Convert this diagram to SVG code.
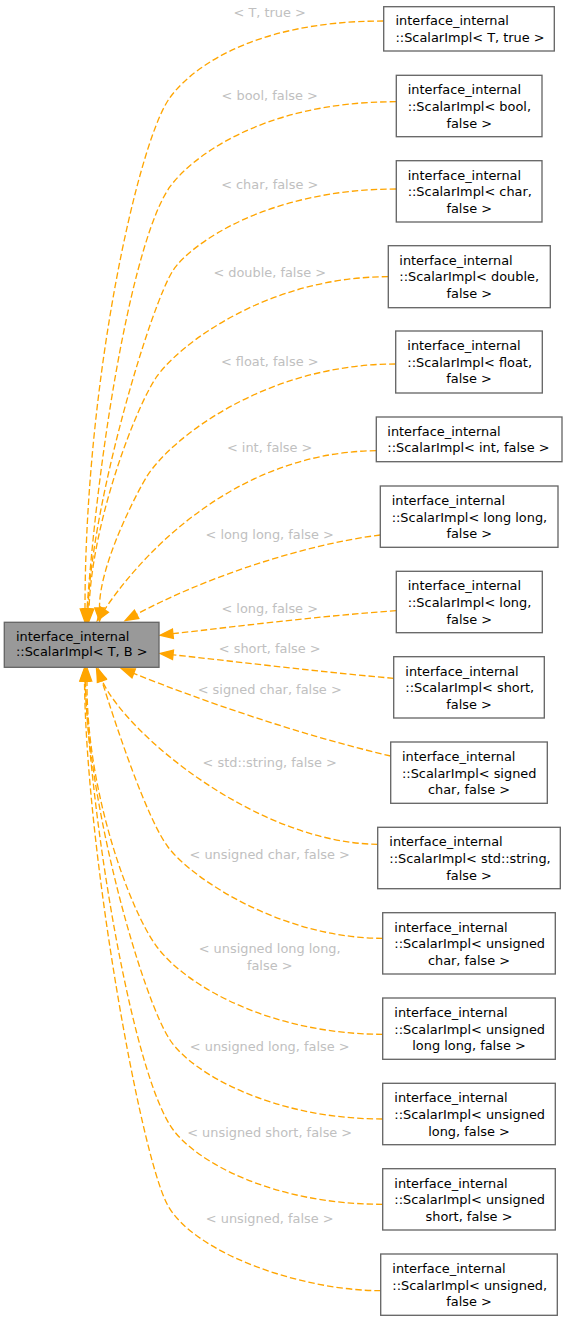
<svg xmlns="http://www.w3.org/2000/svg" width="567" height="1321" viewBox="0 0 567 1321">
<style>
.bg{fill:#ffffff}
.nb{fill:#ffffff;stroke:#666666;stroke-width:1.33}
.nm{fill:#999999;stroke:#666666;stroke-width:1.33}
.t{font-family:"DejaVu Sans",sans-serif;font-size:12.9px;fill:#000000}
.c{text-anchor:middle}
.lb{font-family:"DejaVu Sans",sans-serif;font-size:12.9px;fill:#c0c0c0;text-anchor:middle}
.e{fill:none;stroke:#ffa500;stroke-width:1.33;stroke-dasharray:6.5,3}
.a{fill:#ffa500;stroke:#ffa500;stroke-width:1.33}
</style>
<rect class="bg" x="0" y="0" width="567" height="1321"/>
<g id="edges">
<g id="e1"><path class="e" d="M383.7,21 C243.7,21 184.8,75.1 168.3,100 C138,145.7 85,379 85,609"/><polygon class="a" points="80.3,609 85,622 89.7,609"/><text class="lb" x="269.7" y="17.3">&lt; T, true &gt;</text></g>
<g id="e2"><path class="e" d="M396.3,101.7 C256.3,101.7 187.4,162.4 170,186.7 C135.2,235.3 100,430 87,609"/><polygon class="a" points="82.3,608.7 86.1,622 91.7,609.3"/><text class="lb" x="269.7" y="100">&lt; bool, false &gt;</text></g>
<g id="e3"><path class="e" d="M396.3,189 C266.3,189 189.8,245.1 173.3,270 C151.3,303.2 92,500 88,609"/><polygon class="a" points="83.3,608.8 87.5,622 92.7,609.2"/><text class="lb" x="269.7" y="188.7">&lt; char, false &gt;</text></g>
<g id="e4"><path class="e" d="M388.3,276.7 C268.3,276.7 179.7,344 156.7,376.7 C136.6,405.3 92,520 89,609"/><polygon class="a" points="84.3,608.8 88.6,622 93.7,609.2"/><text class="lb" x="269.7" y="276.7">&lt; double, false &gt;</text></g>
<g id="e5"><path class="e" d="M395.7,364 C265.7,364 170.6,438.5 146.7,476.7 C137.2,492 99,565 99.5,608"/><polygon class="a" points="94.8,608 99.6,621 104.2,608"/><text class="lb" x="269.7" y="365.7">&lt; float, false &gt;</text></g>
<g id="e6"><path class="e" d="M376.3,450.7 C226.3,452 132,568 104.5,609.8"/><polygon class="a" points="100.6,607.2 97.3,620.7 108.4,612.4"/><text class="lb" x="269.7" y="452.3">&lt; int, false &gt;</text></g>
<g id="e7"><path class="e" d="M380.3,535 C300,545 200,580 136.6,614.3"/><polygon class="a" points="134.4,610.2 125.2,620.5 138.8,618.4"/><text class="lb" x="269.7" y="539">&lt; long long, false &gt;</text></g>
<g id="e8"><path class="e" d="M396.3,610.7 C320,616 240,626 172.9,633.7"/><polygon class="a" points="172.4,629 160,635.2 173.4,638.4"/><text class="lb" x="269.7" y="612.5">&lt; long, false &gt;</text></g>
<g id="e9"><path class="e" d="M393.7,678.3 C320,672 240,662 173,654.8"/><polygon class="a" points="173.5,650.1 160.1,653.4 172.5,659.5"/><text class="lb" x="269.7" y="652.7">&lt; short, false &gt;</text></g>
<g id="e10"><path class="e" d="M390.7,756 C300,735 200,700 133.7,673.4"/><polygon class="a" points="135.4,669 121.6,668.6 132,677.8"/><text class="lb" x="269.7" y="694.3">&lt; signed char, false &gt;</text></g>
<g id="e11"><path class="e" d="M377.7,844.3 C257.7,843 126.8,734.8 101.9,680.3"/><polygon class="a" points="106.2,678.4 96.5,668.5 97.6,682.3"/><text class="lb" x="269.7" y="767">&lt; std::string, false &gt;</text></g>
<g id="e12"><path class="e" d="M382.7,938.3 C282.7,938.3 192,879 168,847 C147,819 116.9,728.6 101.9,680.9"/><polygon class="a" points="106.4,679.5 98,668.5 97.4,682.3"/><text class="lb" x="269.7" y="859">&lt; unsigned char, false &gt;</text></g>
<g id="e13"><path class="e" d="M382.7,1034.3 C272.7,1034.3 187,987 157,947 C130,911 86,791 87,681"/><polygon class="a" points="82.3,681 87,668 91.7,681"/><text class="lb" x="269.7" y="953.3">&lt; unsigned long long,</text><text class="lb" x="269.7" y="969.7">false &gt;</text></g>
<g id="e14"><path class="e" d="M382.7,1119 C272.7,1119 192,1073.2 170,1040 C142.5,998.5 87,805 85.5,681"/><polygon class="a" points="80.8,681 85.5,668 90.2,681"/><text class="lb" x="269.7" y="1051">&lt; unsigned long, false &gt;</text></g>
<g id="e15"><path class="e" d="M382.7,1204.3 C272.7,1204.3 197.3,1162 173.3,1130 C134.3,1078 92,835 85,681"/><polygon class="a" points="80.3,681 85,668 89.7,681"/><text class="lb" x="269.7" y="1137">&lt; unsigned short, false &gt;</text></g>
<g id="e16"><path class="e" d="M380.7,1290.7 C300.7,1290.7 191.5,1252.3 166.7,1203.3 C139.7,1149.9 86,850 84.5,681"/><polygon class="a" points="79.8,681 84.5,668 89.2,681"/><text class="lb" x="269.7" y="1223.3">&lt; unsigned, false &gt;</text></g>
</g>
<g id="main"><rect class="nm" x="4.3" y="622.3" width="154.7" height="45"/><text class="t" x="16" y="640.7">interface_internal</text><text class="t" x="16" y="656.3">::ScalarImpl&lt; T, B &gt;</text></g>
<g id="n1"><rect class="nb" x="383.7" y="6.7" width="170.6" height="44.3"/><text class="t" x="395.5" y="25.4">interface_internal</text><text class="t" x="395.5" y="42">::ScalarImpl&lt; T, true &gt;</text></g>
<g id="n2"><rect class="nb" x="396.3" y="75.3" width="145.7" height="61.4"/><text class="t" x="407.7" y="94.3">interface_internal</text><text class="t" x="407.7" y="110.9">::ScalarImpl&lt; bool,</text><text class="t c" x="469.2" y="127.5">false &gt;</text></g>
<g id="n3"><rect class="nb" x="396.3" y="160.7" width="145.7" height="61.3"/><text class="t" x="407.7" y="179.7">interface_internal</text><text class="t" x="407.7" y="196.3">::ScalarImpl&lt; char,</text><text class="t c" x="469.2" y="212.9">false &gt;</text></g>
<g id="n4"><rect class="nb" x="388.3" y="245.7" width="162" height="62"/><text class="t" x="399.3" y="264.7">interface_internal</text><text class="t" x="399.3" y="281.3">::ScalarImpl&lt; double,</text><text class="t c" x="469.3" y="297.9">false &gt;</text></g>
<g id="n5"><rect class="nb" x="395.7" y="331" width="146.6" height="62"/><text class="t" x="407.3" y="350">interface_internal</text><text class="t" x="407.3" y="366.6">::ScalarImpl&lt; float,</text><text class="t c" x="469" y="383.2">false &gt;</text></g>
<g id="n6"><rect class="nb" x="376.3" y="417" width="185.7" height="44.7"/><text class="t" x="387.3" y="435.7">interface_internal</text><text class="t" x="387.3" y="452.3">::ScalarImpl&lt; int, false &gt;</text></g>
<g id="n7"><rect class="nb" x="380.3" y="486" width="177.7" height="61.3"/><text class="t" x="391.7" y="505">interface_internal</text><text class="t" x="391.7" y="521.6">::ScalarImpl&lt; long long,</text><text class="t c" x="469.2" y="538.2">false &gt;</text></g>
<g id="n8"><rect class="nb" x="396.3" y="571.3" width="146" height="61.4"/><text class="t" x="407.7" y="590.3">interface_internal</text><text class="t" x="407.7" y="606.9">::ScalarImpl&lt; long,</text><text class="t c" x="469.3" y="623.5">false &gt;</text></g>
<g id="n9"><rect class="nb" x="393.7" y="656.7" width="150.6" height="61.3"/><text class="t" x="405.3" y="675.7">interface_internal</text><text class="t" x="405.3" y="692.3">::ScalarImpl&lt; short,</text><text class="t c" x="469" y="708.9">false &gt;</text></g>
<g id="n10"><rect class="nb" x="390.7" y="742" width="156.6" height="61.3"/><text class="t" x="402" y="761">interface_internal</text><text class="t" x="402" y="777.6">::ScalarImpl&lt; signed</text><text class="t c" x="469" y="794.2">char, false &gt;</text></g>
<g id="n11"><rect class="nb" x="377.7" y="827.3" width="182.6" height="61.4"/><text class="t" x="389.3" y="846.3">interface_internal</text><text class="t" x="389.3" y="862.9">::ScalarImpl&lt; std::string,</text><text class="t c" x="469" y="879.5">false &gt;</text></g>
<g id="n12"><rect class="nb" x="382.7" y="912.7" width="172.6" height="61.3"/><text class="t" x="394.3" y="931.7">interface_internal</text><text class="t" x="394.3" y="948.3">::ScalarImpl&lt; unsigned</text><text class="t c" x="469" y="964.9">char, false &gt;</text></g>
<g id="n13"><rect class="nb" x="382.7" y="998" width="172.6" height="61.3"/><text class="t" x="394.3" y="1017">interface_internal</text><text class="t" x="394.3" y="1033.6">::ScalarImpl&lt; unsigned</text><text class="t c" x="469" y="1050.2">long long, false &gt;</text></g>
<g id="n14"><rect class="nb" x="382.7" y="1083.3" width="172.6" height="61.4"/><text class="t" x="394.3" y="1102.3">interface_internal</text><text class="t" x="394.3" y="1118.9">::ScalarImpl&lt; unsigned</text><text class="t c" x="469" y="1135.5">long, false &gt;</text></g>
<g id="n15"><rect class="nb" x="382.7" y="1168.7" width="172.6" height="61.3"/><text class="t" x="394.3" y="1187.7">interface_internal</text><text class="t" x="394.3" y="1204.3">::ScalarImpl&lt; unsigned</text><text class="t c" x="469" y="1220.9">short, false &gt;</text></g>
<g id="n16"><rect class="nb" x="380.7" y="1254" width="176.6" height="61.3"/><text class="t" x="392.3" y="1273">interface_internal</text><text class="t" x="392.3" y="1289.6">::ScalarImpl&lt; unsigned,</text><text class="t c" x="469" y="1306.2">false &gt;</text></g>
</svg>
